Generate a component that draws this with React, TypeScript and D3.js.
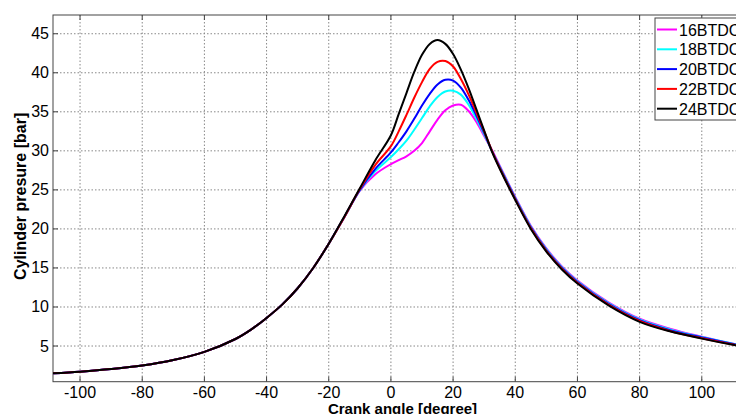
import React, { useEffect, useRef } from 'react'
import * as d3 from 'd3'

// crank angle [deg] shared by all runs
const angles = [-108.7, -100, -90, -80, -70, -60, -50, -45, -40, -35, -30, -25, -20, -15, -10, -5,
  0, 2.5, 5, 7.5, 10, 12.5, 15, 17.5, 20, 22.5, 25, 27.5, 30, 32.5, 35,
  40, 45, 50, 55, 60, 70, 80, 90, 100, 110, 120]

const p16 = [1.5, 1.72, 2.05, 2.5, 3.2, 4.25, 5.9, 7.1, 8.6, 10.3, 12.4, 15.0, 18.1, 21.5, 24.9, 27.0,
  28.3, 28.8, 29.3, 30.0, 31.0, 32.5, 34.0, 35.2, 35.8, 35.9, 35.1, 33.7, 31.9, 30.1, 28.1,
  24.1, 20.4, 17.5, 15.2, 13.4, 10.6, 8.5, 7.2, 6.2, 5.3, 4.6]
const p18 = [1.5, 1.72, 2.05, 2.5, 3.2, 4.25, 5.9, 7.1, 8.6, 10.3, 12.4, 15.0, 18.1, 21.5, 24.95, 27.4,
  29.2, 30.2, 31.3, 32.7, 34.2, 35.7, 36.9, 37.6, 37.7, 37.2, 35.9, 34.1, 32.1, 30.0, 28.0,
  24.0, 20.3, 17.4, 15.1, 13.3, 10.5, 8.4, 7.1, 6.15, 5.3, 4.6]
const p20 = [1.5, 1.72, 2.05, 2.5, 3.2, 4.25, 5.9, 7.1, 8.6, 10.3, 12.4, 15.0, 18.1, 21.5, 25.0, 27.7,
  29.8, 31.1, 32.5, 34.1, 35.8, 37.3, 38.5, 39.1, 39.0, 38.1, 36.5, 34.5, 32.3, 30.0, 27.9,
  23.9, 20.2, 17.3, 15.0, 13.2, 10.4, 8.3, 7.0, 6.1, 5.25, 4.55]
const p22 = [1.5, 1.72, 2.05, 2.5, 3.2, 4.25, 5.9, 7.1, 8.6, 10.3, 12.4, 15.0, 18.1, 21.5, 25.1, 28.2,
  30.6, 32.5, 34.6, 36.8, 38.8, 40.5, 41.4, 41.5, 40.8, 39.2, 37.2, 34.9, 32.5, 30.0, 27.8,
  23.8, 20.1, 17.2, 14.9, 13.1, 10.3, 8.2, 6.9, 6.0, 5.2, 4.5]
const p24 = [1.5, 1.72, 2.05, 2.5, 3.2, 4.25, 5.9, 7.1, 8.6, 10.3, 12.4, 15.0, 18.1, 21.6, 25.2, 28.8,
  32.0, 34.7, 37.4, 40.1, 42.3, 43.7, 44.2, 43.7, 42.4, 40.4, 38.0, 35.3, 32.6, 29.9, 27.7,
  23.7, 20.0, 17.1, 14.8, 13.0, 10.2, 8.1, 6.85, 5.95, 5.15, 4.45]

const labels = ['16BTDC', '18BTDC', '20BTDC', '22BTDC', '24BTDC']
const colors = ['#ff00ff', '#00ffff', '#0000ff', '#ff0000', '#000000']
const series = [p16, p18, p20, p22, p24]

const xTicks = [-100, -80, -60, -40, -20, 0, 20, 40, 60, 80, 100]
const yTicks = [5, 10, 15, 20, 25, 30, 35, 40, 45]

export default function App() {
  const ref = useRef<SVGSVGElement>(null)

  useEffect(() => {
    const W = 736, H = 414
    const left = 53, top = 15, bottom = 381.7
    const svg = d3.select(ref.current)
    svg.selectAll('*').remove()

    const x = d3.scaleLinear().domain([-108.7, 120]).range([left, 391 + 3.108 * 120])
    const y = d3.scaleLinear().domain([0.43, 47.4]).range([bottom, top])
    const right = x(120)

    svg.append('defs').append('clipPath').attr('id', 'plotclip')
      .append('rect').attr('x', left).attr('y', top).attr('width', right - left).attr('height', bottom - top)

    // grid
    const grid = svg.append('g')
    grid.selectAll('.gx').data(xTicks).enter().append('line')
      .attr('x1', d => x(d)).attr('x2', d => x(d)).attr('y1', top).attr('y2', bottom)
      .attr('stroke', '#888').attr('stroke-dasharray', '1.5,2').attr('stroke-width', 1)
    grid.selectAll('.gy').data(yTicks).enter().append('line')
      .attr('x1', left).attr('x2', right).attr('y1', d => y(d)).attr('y2', d => y(d))
      .attr('stroke', '#888').attr('stroke-dasharray', '1.5,2').attr('stroke-width', 1)

    // axes box + inward ticks
    const ax = svg.append('g').attr('stroke', '#444').attr('stroke-width', 1).attr('fill', 'none')
    ax.append('rect').attr('x', left).attr('y', top).attr('width', right - left).attr('height', bottom - top)
    xTicks.forEach(t => {
      ax.append('line').attr('x1', x(t)).attr('x2', x(t)).attr('y1', bottom).attr('y2', bottom - 5)
      ax.append('line').attr('x1', x(t)).attr('x2', x(t)).attr('y1', top).attr('y2', top + 5)
    })
    yTicks.forEach(t => {
      ax.append('line').attr('x1', left).attr('x2', left + 5).attr('y1', y(t)).attr('y2', y(t))
    })

    // tick labels
    const font = '"Liberation Sans", Arial, sans-serif'
    svg.append('g').selectAll('text').data(xTicks).enter().append('text')
      .attr('x', d => x(d)).attr('y', 397.5).attr('text-anchor', 'middle')
      .attr('font-family', font).attr('font-size', 16).text(d => d)
    svg.append('g').selectAll('text').data(yTicks).enter().append('text')
      .attr('x', 49).attr('y', d => y(d) + 5.5).attr('text-anchor', 'end')
      .attr('font-family', font).attr('font-size', 16).text(d => d)

    // lines
    const line = d3.line<number>()
      .x((_, i) => x(angles[i]))
      .y(d => y(d))
      .curve(d3.curveCatmullRom.alpha(0.5))
    const lines = svg.append('g').attr('clip-path', 'url(#plotclip)')
    series.forEach((s, i) => {
      lines.append('path').attr('d', line(s) as string)
        .attr('fill', 'none').attr('stroke', colors[i]).attr('stroke-width', 2)
    })

    // legend
    const lg = svg.append('g')
    lg.append('rect').attr('x', 655).attr('y', 18).attr('width', 120).attr('height', 102)
      .attr('fill', 'white').attr('stroke', '#444').attr('stroke-width', 1)
    labels.forEach((l, i) => {
      const yy = 29.5 + i * 19.8
      lg.append('line').attr('x1', 657).attr('x2', 677).attr('y1', yy).attr('y2', yy)
        .attr('stroke', colors[i]).attr('stroke-width', 2)
      lg.append('text').attr('x', 679).attr('y', yy + 6).attr('font-family', font)
        .attr('font-size', 16).text(l)
    })

    // axis titles
    svg.append('text').attr('x', (left + 736) / 2 + 8).attr('y', 414).attr('text-anchor', 'middle')
      .attr('font-family', font).attr('font-size', 15).attr('font-weight', 'bold')
      .text('Crank angle [degree]')
    svg.append('text').attr('transform', `translate(26,${(top + bottom) / 2 - 2}) rotate(-90)`)
      .attr('text-anchor', 'middle').attr('font-family', font).attr('font-size', 16)
      .attr('font-weight', 'bold').text('Cylinder presure [bar]')

    svg.attr('width', W).attr('height', H)
  }, [])

  return <svg ref={ref} style={{ position: 'absolute', left: 0, top: 0, background: 'white' }} />
}
